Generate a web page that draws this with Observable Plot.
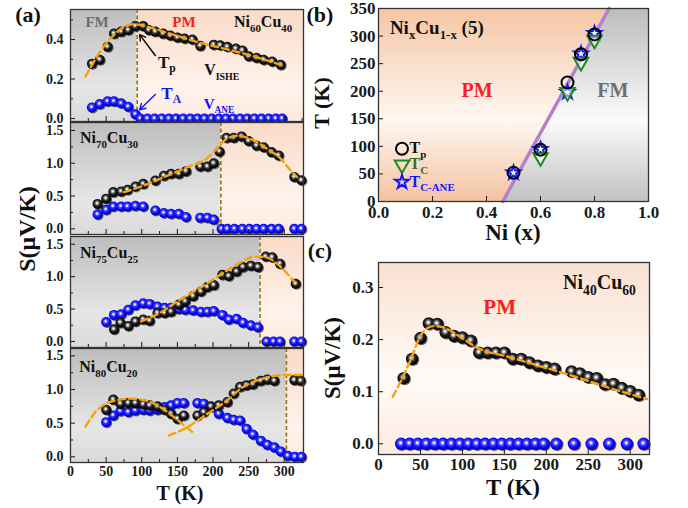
<!DOCTYPE html>
<html><head><meta charset="utf-8">
<script src="https://cdn.jsdelivr.net/npm/d3@7"></script>
<script src="https://cdn.jsdelivr.net/npm/@observablehq/plot@0.6"></script>
<style>
html,body{margin:0;padding:0;background:#fff;}
#root{position:relative;width:688px;height:508px;overflow:hidden;background:#fff;}
#root > svg{position:absolute;}
</style></head><body><div id="root"></div>
<script>
const FONT = '"Liberation Serif","Times New Roman",serif';
const ns = "http://www.w3.org/2000/svg";

// ---------------- Panel (a) data ----------------
const xTicksA = [0, 50, 100, 150, 200, 250, 300];
const xMinorA = [25, 75, 125, 175, 225, 275, 325];
const yTicksA1 = [0, 0.2, 0.4];
const yMinorA1 = [0.1, 0.3, 0.5];
const yTicksA = [0, 0.5, 1.0, 1.5];
const yMinorA = [0.25, 0.75, 1.25];

// Ni60Cu40
const a1BlackT = [30,41,52,61,71,81,91,102,110,119,130,140,150,160,171,182,201,210,220,232,241,250,261,271,283,295];
const a1BlackS = [0.277,0.298,0.363,0.43,0.44,0.448,0.468,0.468,0.448,0.44,0.43,0.42,0.41,0.405,0.40,0.368,0.374,0.371,0.363,0.354,0.345,0.315,0.308,0.298,0.289,0.272];
const a1BlueT = [30,41,52,61,71,81,91,98,108,118,128,138,148,158,168,178,188,198,208,218,228,238,248,258,268,278,288,297];
const a1BlueS = [0.056,0.073,0.087,0.087,0.077,0.06,0.022,0,0,0,0,0,0,0,0,0,0,0,0,0,0,0,0,0,0,0,0,0];
const a1FitT = [21,30,40,50,60,70,80,90,100,120,150,182,220,257,297];
const a1FitS = [0.213,0.27,0.33,0.38,0.42,0.452,0.471,0.478,0.472,0.452,0.418,0.383,0.35,0.315,0.269];
const a1Tc = 93.6;

// Ni70Cu30
const a2BlackT = [38,50,60,71,80,91,102,119,131,141,152,162,182,192,201,209,219,229,240,250,261,271,282,292,314,324];
const a2BlackS = [0.38,0.46,0.56,0.57,0.595,0.645,0.686,0.737,0.81,0.84,0.84,0.88,0.95,0.95,1.0,1.18,1.39,1.39,1.41,1.34,1.27,1.245,1.17,1.12,0.79,0.74];
const a2BlueT = [38,50,60,71,80,91,102,119,131,141,152,162,182,192,201,212,220,230,241,251,261,271,282,292,314,324];
const a2BlueS = [0.22,0.29,0.34,0.34,0.34,0.35,0.34,0.28,0.24,0.23,0.23,0.18,0.17,0.17,0.14,0,0,0,0,0,0,0,0,0,0,0];
const a2FitT = [75,103,136,164,192,205,215,225,235,245,257,276,295,309,318];
const a2FitS = [0.56,0.66,0.81,0.94,1.08,1.22,1.34,1.40,1.42,1.40,1.35,1.22,1.07,0.89,0.79];
const a2Tc = 211;

// Ni75Cu25
const a3BlackT = [61,70,81,91,102,111,122,132,141,152,161,172,183,192,201,213,222,233,242,253,263,274,283,294,316];
const a3BlackS = [0.187,0.29,0.24,0.31,0.34,0.32,0.44,0.44,0.46,0.57,0.62,0.70,0.77,0.84,0.87,1.03,1.01,1.08,1.15,1.17,1.15,1.31,1.30,1.20,0.89];
const a3BlueT = [50,61,71,81,91,102,111,122,132,141,152,161,172,183,192,201,213,222,233,242,253,263,275,285,294,314,324];
const a3BlueS = [0.30,0.41,0.42,0.49,0.56,0.59,0.58,0.54,0.52,0.52,0.50,0.49,0.48,0.46,0.46,0.47,0.41,0.34,0.35,0.29,0.25,0.22,0,0,0,0,0];
const a3FitT = [99,125,153,181,209,237,260,274,293,314];
const a3FitS = [0.31,0.44,0.64,0.82,1.02,1.21,1.31,1.30,1.17,0.92];
const a3Tc = 266;

// Ni80Cu20
const a4BlackT = [50,60,70,81,91,102,111,122,132,141,150,159,178,187,197,208,220,229,238,247,256,267,276,286,314,323];
const a4BlackS = [0.70,0.85,0.79,0.80,0.80,0.78,0.765,0.75,0.70,0.64,0.565,0.615,0.615,0.665,0.75,0.765,0.815,0.94,1.04,1.065,1.08,1.13,1.15,1.13,1.14,1.13];
const a4BlueT = [50,60,70,81,91,102,111,122,132,141,150,159,178,187,197,208,220,229,238,247,256,267,276,286,295,305,315,324];
const a4BlueS = [0.515,0.615,0.68,0.665,0.69,0.70,0.69,0.70,0.74,0.765,0.80,0.80,0.80,0.79,0.74,0.64,0.58,0.55,0.54,0.415,0.33,0.24,0.18,0.14,0.08,0.015,0,0];
const a4Fit1T = [21,37,56,84,112,136,154,173];
const a4Fit1S = [0.45,0.69,0.815,0.865,0.815,0.665,0.515,0.35];
const a4Fit2T = [138,164,192,220,239,257,276,300,325];
const a4Fit2S = [0.315,0.44,0.64,0.84,1.015,1.115,1.18,1.215,1.215];
const a4Tc = 303;

// ---------------- Panel (b) data ----------------
const bX = [0.5, 0.6, 0.7, 0.75, 0.8];
const bTp = [52, 94, 216, 267, 303];
const bTcX = [0.6, 0.7, 0.75, 0.8];
const bTc = [80, 198, 253, 293];
const bTcAne = [52, 95, 198, 268, 305];
const boundaryX = [0.46, 0.854];
const boundaryY = [0, 350];
const xTicksB = [0, 0.2, 0.4, 0.6, 0.8, 1.0];
const yTicksB = [0, 50, 100, 150, 200, 250, 300, 350];

// ---------------- Panel (c) data ----------------
const cBlackT = [30,40,50,60,70,80,90,100,110,120,130,140,150,160,170,180,190,200,210,230,240,250,260,270,280,290,300,310];
const cBlackS = [0.126,0.163,0.203,0.231,0.23,0.214,0.207,0.204,0.198,0.175,0.175,0.175,0.175,0.163,0.163,0.156,0.15,0.147,0.144,0.139,0.135,0.128,0.126,0.114,0.115,0.107,0.101,0.094];
const cBlueT = [27,37,47,57,67,77,87,97,107,117,127,137,147,157,167,177,187,197,212,233,254,275,296,316];
const cBlueS = [0,0,0,0,0,0,0,0,0,0,0,0,0,0,0,0,0,0,0,0,0,0,0,0];
const cFitT = [17,25,38,50,58,66,78,95,117,157,197,236,276,320];
const cFitS = [0.09,0.115,0.16,0.207,0.222,0.226,0.223,0.208,0.185,0.166,0.147,0.128,0.107,0.086];
const xTicksC = [0, 50, 100, 150, 200, 250, 300];
const yTicksC = [0, 0.1, 0.2, 0.3];

// ---------------- helpers ----------------
const zip = (xs, ys) => xs.map((x, i) => ({x, y: ys[i]}));
const fmt1 = d3.format(".1f");
const root = document.getElementById("root");

const defs = document.createElementNS(ns, "svg");
defs.setAttribute("width", 0); defs.setAttribute("height", 0);
defs.innerHTML = `<defs>
<linearGradient id="gGrayA" x1="0" y1="0" x2="0" y2="1">
 <stop offset="0" stop-color="#bdbdbd"/><stop offset="0.7" stop-color="#e6e6e6"/><stop offset="1" stop-color="#dadada"/></linearGradient>
<linearGradient id="gPeachA" x1="0" y1="0" x2="0" y2="1">
 <stop offset="0" stop-color="#f9dac6"/><stop offset="0.7" stop-color="#fff3ec"/><stop offset="1" stop-color="#fde9dd"/></linearGradient>
<linearGradient id="gPeachB" x1="0" y1="0" x2="0" y2="1">
 <stop offset="0" stop-color="#f5c6a4"/><stop offset="0.58" stop-color="#fff7f2"/><stop offset="1" stop-color="#f4c3a1"/></linearGradient>
<linearGradient id="gGrayB" x1="0" y1="0" x2="0" y2="1">
 <stop offset="0" stop-color="#bcbcbc"/><stop offset="0.58" stop-color="#fbfbfb"/><stop offset="1" stop-color="#c2c2c2"/></linearGradient>
<linearGradient id="gPeachC" x1="0" y1="0" x2="0" y2="1">
 <stop offset="0" stop-color="#f9e1d1"/><stop offset="0.6" stop-color="#fffaf7"/><stop offset="1" stop-color="#fcece2"/></linearGradient>
<radialGradient id="ballK" cx="0.45" cy="0.42" r="0.55">
 <stop offset="0" stop-color="#ffffff"/><stop offset="0.14" stop-color="#e4e4e4"/><stop offset="0.32" stop-color="#7c7c7c"/><stop offset="0.55" stop-color="#222"/><stop offset="1" stop-color="#000"/></radialGradient>
<radialGradient id="ballB" cx="0.45" cy="0.42" r="0.55">
 <stop offset="0" stop-color="#ffffff"/><stop offset="0.15" stop-color="#d8d8ff"/><stop offset="0.35" stop-color="#4a4aff"/><stop offset="0.7" stop-color="#0808ff"/><stop offset="1" stop-color="#0000b8"/></radialGradient>
</defs>`;
root.appendChild(defs);

function addText(svg, x, y, parts, o = {}) {
  const size = o.size || 15;
  const t = document.createElementNS(ns, "text");
  const by = y + size * 0.33;
  t.setAttribute("x", x); t.setAttribute("y", by);
  t.setAttribute("text-anchor", o.anchor || "middle");
  t.setAttribute("font-family", FONT);
  t.setAttribute("font-weight", "bold");
  t.setAttribute("font-size", size);
  t.setAttribute("fill", o.color || "#111");
  if (o.rotate) t.setAttribute("transform", `rotate(${o.rotate} ${x} ${y})`);
  let shifted = false;
  const sub = o.sub || 0.68;
  for (const [str, isSub] of parts) {
    const ts = document.createElementNS(ns, "tspan");
    ts.textContent = str;
    if (isSub && !shifted) { ts.setAttribute("dy", size * 0.28); shifted = true; }
    else if (!isSub && shifted) { ts.setAttribute("dy", -size * 0.28); shifted = false; }
    if (isSub) ts.setAttribute("font-size", size * sub);
    t.appendChild(ts);
  }
  svg.appendChild(t);
}
function dataText(plot, x, y, parts, o) {
  const sx = plot.scale("x"), sy = plot.scale("y");
  addText(plot, sx.apply(x), sy.apply(y), parts, o);
}
function place(svg, left, top) {
  svg.style.position = "absolute"; svg.style.left = left + "px"; svg.style.top = top + "px";
  root.appendChild(svg);
}
const baseStyle = (fs) => ({background: "none", overflow: "visible", fontFamily: FONT, fontWeight: "bold", fontSize: fs + "px", color: "#1a1a1a"});

function balls(data, grad, r) {
  return [
    Plot.dot(data, {x: "x", y: "y", r, fill: "#000", fillOpacity: 0.6, dx: 1, dy: 1}),
    Plot.dot(data, {x: "x", y: "y", r, fill: `url(#${grad})`})
  ];
}
const fitLine = (f) => Plot.line(f, {x: "x", y: "y", stroke: "#f7a20a", strokeWidth: 2.4, strokeDasharray: "7,4", curve: "monotone-x"});

function panelA(cfg) {
  const mt = 8, mb = cfg.last ? 508 - cfg.bottom : 4;
  const [y0, y1] = cfg.yDomain;
  const marks = [
    Plot.rect([{x1: 0, x2: cfg.tc, y1: y0, y2: y1}], {x1: "x1", x2: "x2", y1: "y1", y2: "y2", fill: "url(#gGrayA)"}),
    Plot.rect([{x1: cfg.tc, x2: 327, y1: y0, y2: y1}], {x1: "x1", x2: "x2", y1: "y1", y2: "y2", fill: "url(#gPeachA)"}),
    Plot.ruleX([cfg.tc], {stroke: "#8f7318", strokeWidth: 1.6, strokeDasharray: "4,2.5"}),
    ...balls(cfg.blue, "ballB", 5),
    ...balls(cfg.black, "ballK", 5),
    ...cfg.fits.map(fitLine),
    ...(cfg.extra || []),
    Plot.axisX(xMinorA, {tickSize: -3, tickFormat: () => "", label: null}),
    Plot.axisX(xTicksA, {tickSize: -5, tickPadding: 9, tickFormat: cfg.last ? (d => d) : () => "", label: null, fontSize: 14}),
    Plot.axisY(cfg.yMinor, {tickSize: -3, tickFormat: () => "", label: null}),
    Plot.axisY(cfg.yTicks, {tickSize: -5, tickPadding: 12, tickFormat: fmt1, label: null, fontSize: 14}),
    Plot.frame({stroke: "#333", strokeWidth: 1.3})
  ];
  const p = Plot.plot({
    width: 310, height: cfg.bottom - cfg.top + mt + mb,
    marginLeft: 70, marginRight: 7, marginTop: mt, marginBottom: mb,
    x: {domain: [0, 327], label: null}, y: {domain: cfg.yDomain, label: null},
    style: baseStyle(14),
    marks
  });
  place(p, 0, cfg.top - mt);
  return p;
}

// ---------------- Panel (a) ----------------
const pa1 = panelA({
  top: 9, bottom: 121, yDomain: [-0.015, 0.552], yTicks: yTicksA1, yMinor: yMinorA1, tc: a1Tc,
  black: zip(a1BlackT, a1BlackS), blue: zip(a1BlueT, a1BlueS), fits: [zip(a1FitT, a1FitS)],
  extra: [
    Plot.arrow([{x1: 119, y1: 0.319, x2: 97, y2: 0.425}], {x1: "x1", y1: "y1", x2: "x2", y2: "y2", stroke: "#000", strokeWidth: 1.4, headLength: 7}),
    Plot.arrow([{x1: 119, y1: 0.122, x2: 97, y2: 0.044}], {x1: "x1", y1: "y1", x2: "x2", y2: "y2", stroke: "#1010ff", strokeWidth: 1.4, headLength: 7})
  ]
});
dataText(pa1, 38, 0.486, [["FM", false]], {size: 15, color: "#6d6d6d"});
dataText(pa1, 160, 0.486, [["PM", false]], {size: 15, color: "#ff1a1a"});
dataText(pa1, 271, 0.486, [["Ni", false], ["60", true], ["Cu", false], ["40", true]], {size: 16});
dataText(pa1, 136, 0.284, [["T", false], ["p", true]], {size: 17});
dataText(pa1, 213, 0.243, [["V", false], ["ISHE", true]], {size: 16, sub: 0.62});
dataText(pa1, 142, 0.127, [["T", false], ["A", true]], {size: 17, color: "#1010ff"});
dataText(pa1, 209, 0.071, [["V", false], ["ANE", true]], {size: 15, color: "#1010ff", sub: 0.62});

const pa2 = panelA({
  top: 122, bottom: 234, yDomain: [-0.087, 1.622], yTicks: yTicksA, yMinor: yMinorA, tc: a2Tc,
  black: zip(a2BlackT, a2BlackS), blue: zip(a2BlueT, a2BlueS), fits: [zip(a2FitT, a2FitS)]
});
dataText(pa2, 14, 1.378, [["Ni", false], ["70", true], ["Cu", false], ["30", true]], {size: 16, anchor: "start"});

const pa3 = panelA({
  top: 236, bottom: 347, yDomain: [-0.093, 1.62], yTicks: yTicksA, yMinor: yMinorA, tc: a3Tc,
  black: zip(a3BlackT, a3BlackS), blue: zip(a3BlueT, a3BlueS), fits: [zip(a3FitT, a3FitS)]
});
dataText(pa3, 14, 1.358, [["Ni", false], ["75", true], ["Cu", false], ["25", true]], {size: 16, anchor: "start"});

const pa4 = panelA({
  top: 348, bottom: 462, yDomain: [-0.085, 1.61], yTicks: yTicksA, yMinor: yMinorA, tc: a4Tc, last: true,
  black: zip(a4BlackT, a4BlackS), blue: zip(a4BlueT, a4BlueS), fits: [zip(a4Fit1T, a4Fit1S), zip(a4Fit2T, a4Fit2S)]
});
dataText(pa4, 13, 1.327, [["Ni", false], ["80", true], ["Cu", false], ["20", true]], {size: 16, anchor: "start"});

// ---------------- Panel (b) ----------------
const triDown = {draw(ctx, size) {
  const s = Math.sqrt(size * 4 / Math.sqrt(3)), h = s * Math.sqrt(3) / 2;
  ctx.moveTo(-s / 2, -h / 3); ctx.lineTo(s / 2, -h / 3); ctx.lineTo(0, 2 * h / 3); ctx.closePath();
}};
const grayRegion = [
  {x: boundaryX[0], y1: 0, y2: boundaryY[0]},
  {x: boundaryX[1], y1: 0, y2: boundaryY[1]},
  {x: 1, y1: 0, y2: 350}
];
const legendB = [
  {x: 0.087, y: 95.6, k: "tp"}, {x: 0.087, y: 66.9, k: "tc"}, {x: 0.087, y: 35.2, k: "ane"}
];
const pb = Plot.plot({
  width: 345, height: 245, marginLeft: 68, marginRight: 7, marginTop: 8, marginBottom: 44,
  x: {domain: [0, 1], label: null}, y: {domain: [0, 350], label: null},
  style: baseStyle(17),
  marks: [
    Plot.rect([{x1: 0, x2: 1, y1: 0, y2: 350}], {x1: "x1", x2: "x2", y1: "y1", y2: "y2", fill: "url(#gPeachB)"}),
    Plot.areaY(grayRegion, {x: "x", y1: "y1", y2: "y2", fill: "url(#gGrayB)"}),
    Plot.line(zip(boundaryX, boundaryY), {x: "x", y: "y", stroke: "#b380cb", strokeWidth: 3.5}),
    Plot.dot(zip(bX, bTcAne), {x: "x", y: "y", symbol: "star", r: 4.3, stroke: "#1414ff", strokeWidth: 2, fill: "white"}),
    Plot.dot(zip(bTcX, bTc), {x: "x", y: "y", symbol: triDown, r: 5.4, stroke: "#1f8a1f", strokeWidth: 2, fill: "white", fillOpacity: 0.55}),
    Plot.dot(zip(bX, bTp), {x: "x", y: "y", r: 6, stroke: "#000", strokeWidth: 2, fill: "none"}),
    Plot.dot(legendB.filter(d => d.k === "tp"), {x: "x", y: "y", r: 6, stroke: "#000", strokeWidth: 2, fill: "none"}),
    Plot.dot(legendB.filter(d => d.k === "tc"), {x: "x", y: "y", symbol: triDown, r: 5.4, stroke: "#1f8a1f", strokeWidth: 2, fill: "none"}),
    Plot.dot(legendB.filter(d => d.k === "ane"), {x: "x", y: "y", symbol: "star", r: 4.3, stroke: "#1414ff", strokeWidth: 2, fill: "none"}),
    Plot.axisX(xTicksB, {tickSize: -5, tickPadding: 9, tickFormat: fmt1, label: null}),
    Plot.axisY(yTicksB, {tickSize: -5, tickPadding: 8, tickFormat: d => d, label: null}),
    Plot.frame({stroke: "#333", strokeWidth: 1.3})
  ]
});
place(pb, 310, 0);
dataText(pb, 0.044, 314, [["Ni", false], ["x", true], ["Cu", false], ["1-x", true], [" (5)", false]], {size: 19, anchor: "start"});
dataText(pb, 0.367, 200.6, [["PM", false]], {size: 20, color: "#ff1a1a"});
dataText(pb, 0.87, 200.6, [["FM", false]], {size: 20, color: "#6f6f6f"});
dataText(pb, 0.117, 96.5, [["T", false], ["p", true]], {size: 16, anchor: "start"});
dataText(pb, 0.117, 67.5, [["T", false], ["C", true]], {size: 16, anchor: "start", color: "#3b6b2a"});
dataText(pb, 0.117, 35.5, [["T", false], ["C-ANE", true]], {size: 16, anchor: "start", color: "#1414ff"});

// ---------------- Panel (c) ----------------
const pc = Plot.plot({
  width: 345, height: 263, marginLeft: 68, marginRight: 6, marginTop: 17, marginBottom: 54,
  x: {domain: [0, 323], label: null}, y: {domain: [-0.0205, 0.348], label: null},
  style: baseStyle(17),
  marks: [
    Plot.rect([{x1: 0, x2: 323, y1: -0.0205, y2: 0.348}], {x1: "x1", x2: "x2", y1: "y1", y2: "y2", fill: "url(#gPeachC)"}),
    ...balls(zip(cBlueT, cBlueS), "ballB", 6.2),
    ...balls(zip(cBlackT, cBlackS), "ballK", 6.2),
    fitLine(zip(cFitT, cFitS)),
    Plot.axisX(xTicksC, {tickSize: -5, tickPadding: 8, tickFormat: d => d, label: null}),
    Plot.axisY(yTicksC, {tickSize: -5, tickPadding: 10, tickFormat: fmt1, label: null}),
    Plot.frame({stroke: "#333", strokeWidth: 1.3})
  ]
});
place(pc, 310, 245);
dataText(pc, 264, 0.309, [["Ni", false], ["40", true], ["Cu", false], ["60", true]], {size: 20});
dataText(pc, 145, 0.261, [["PM", false]], {size: 21, color: "#ff1a1a"});

// ---------------- titles overlay ----------------
const ov = document.createElementNS(ns, "svg");
ov.setAttribute("width", 688); ov.setAttribute("height", 508);
ov.style.position = "absolute"; ov.style.left = "0px"; ov.style.top = "0px"; ov.style.pointerEvents = "none";
root.appendChild(ov);
addText(ov, 28, 15, [["(a)", false]], {size: 22});
addText(ov, 320, 15, [["(b)", false]], {size: 22});
addText(ov, 320, 251, [["(c)", false]], {size: 22});
addText(ov, 27, 229, [["S(\u03bcV/K)", false]], {size: 24, rotate: -90});
addText(ov, 180, 493, [["T (K)", false]], {size: 20});
addText(ov, 322, 103, [["T (K)", false]], {size: 22, rotate: -90});
addText(ov, 513, 232, [["Ni (x)", false]], {size: 23});
addText(ov, 332, 358, [["S(\u03bcV/K)", false]], {size: 23, rotate: -90});
addText(ov, 513, 487, [["T (K)", false]], {size: 23});
</script></body></html>
